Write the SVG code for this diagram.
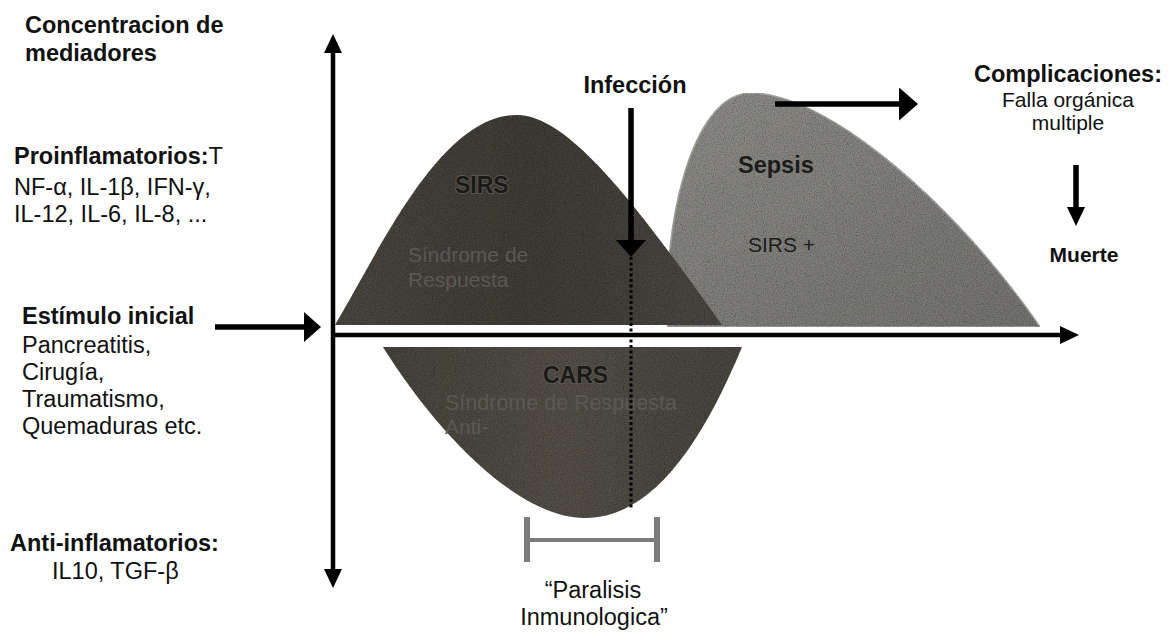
<svg xmlns="http://www.w3.org/2000/svg" width="1171" height="634" viewBox="0 0 1171 634">
<style>
text{font-family:"Liberation Sans",Arial,Helvetica,sans-serif;fill:#111;}
.b{font-weight:bold;}
.l{font-size:23.5px;}
.r{font-size:21px;}
.c{text-anchor:middle;}
.in{font-weight:bold;font-size:23px;fill:#1a1917;stroke:#5a5751;stroke-width:2;paint-order:stroke;}
.sub{font-size:21px;fill:#5b5852;}
.ax{stroke:#000;stroke-width:4.5;fill:none;}
.ar{stroke:#000;stroke-width:5.5;fill:none;}
</style>
<defs>
<marker id="hA" markerUnits="userSpaceOnUse" markerWidth="19" markerHeight="18" refX="0" refY="9" orient="auto-start-reverse" viewBox="0 0 19 18"><path d="M0,0 L19,9 L0,18 Z" fill="#000"/></marker>
<marker id="hB" markerUnits="userSpaceOnUse" markerWidth="17" markerHeight="30" refX="0" refY="15" orient="auto" viewBox="0 0 17 30"><path d="M0,0 L17,15 L0,30 Z" fill="#000"/></marker>
<marker id="hC" markerUnits="userSpaceOnUse" markerWidth="19" markerHeight="33" refX="0" refY="16.5" orient="auto" viewBox="0 0 19 33"><path d="M0,0 L19,16.5 L0,33 Z" fill="#000"/></marker>
<linearGradient id="gSep" x1="0" y1="0" x2="1" y2="1"><stop offset="0" stop-color="#8f8e89"/><stop offset="1" stop-color="#74736f"/></linearGradient>
<linearGradient id="gSirs" x1="0" y1="0" x2="1" y2="0"><stop offset="0" stop-color="#4a4741"/><stop offset="0.5" stop-color="#403d37"/><stop offset="1" stop-color="#4a4843"/></linearGradient>
<linearGradient id="gCars" x1="0" y1="0" x2="1" y2="0"><stop offset="0" stop-color="#47443d"/><stop offset="0.5" stop-color="#545048"/><stop offset="1" stop-color="#48453f"/></linearGradient>
<filter id="grain" x="0" y="0" width="100%" height="100%">
<feTurbulence type="fractalNoise" baseFrequency="0.9" numOctaves="2" seed="4" result="n"/>
<feColorMatrix in="n" type="matrix" values="0 0 0 0 0 0 0 0 0 0 0 0 0 0 0 0 0 0 -1.1 0.68" result="a"/>
<feComposite in="a" in2="SourceGraphic" operator="in" result="s"/>
<feMerge><feMergeNode in="SourceGraphic"/><feMergeNode in="s"/></feMerge>
</filter>
</defs>
<rect width="1171" height="634" fill="#fff"/>

<g id="sepsis">
<path d="M668,327 C662,230 690,95 750,93 C830,93 960,210 1040,327 Z" fill="url(#gSep)" stroke="#a9a8a4" stroke-width="1.5" filter="url(#grain)"/>
<text x="738" y="173" class="b" style="font-size:23.5px;fill:#1c1c1b">Sepsis</text>
<text x="748" y="252" style="font-size:21px;fill:#1c1c1b">SIRS +</text>
</g>

<g id="sirs">
<path d="M335,325 C380,250 440,115 517,115 C570,115 640,210 722,325 Z" fill="url(#gSirs)" filter="url(#grain)"/>
<text x="455" y="193" class="in">SIRS</text>
<text x="408" y="262" class="sub">Síndrome de</text>
<text x="408" y="287" class="sub">Respuesta</text>
</g>

<g id="cars">
<path d="M383,347 L742,347 C700,448 650,518 585,518 C520,518 440,438 383,347 Z" fill="url(#gCars)" filter="url(#grain)"/>
<text x="543" y="383" class="in">CARS</text>
<text x="445" y="410" class="sub" style="font-size:21.5px">Síndrome de Respuesta</text>
<text x="445" y="434" class="sub">Anti-</text>
</g>

<g id="paralisis">
<g stroke="#7b7b7b" fill="none">
<line x1="527" y1="517" x2="527" y2="562" stroke-width="6"/>
<line x1="657" y1="517" x2="657" y2="562" stroke-width="6"/>
<line x1="527" y1="540" x2="657" y2="540" stroke-width="4"/>
</g>
<text x="593" y="598" class="l c">“Paralisis</text>
<text x="594" y="625" class="l c">Inmunologica”</text>
</g>

<g id="mediadores">
<text x="25" y="33" class="b l">Concentracion de</text>
<text x="25" y="61" class="b l">mediadores</text>
</g>

<g id="proinflamatorios">
<text x="14" y="164" class="l"><tspan class="b">Proinflamatorios:</tspan>T</text>
<text x="14" y="195" class="l">NF-α, IL-1β, IFN-γ,</text>
<text x="14" y="222" class="l">IL-12, IL-6, IL-8, ...</text>
</g>

<g id="estimulo">
<text x="22" y="324" class="b l">Estímulo inicial</text>
<text x="22" y="353" class="l">Pancreatitis,</text>
<text x="22" y="380" class="l">Cirugía,</text>
<text x="22" y="407" class="l">Traumatismo,</text>
<text x="22" y="434" class="l">Quemaduras etc.</text>
</g>

<g id="antiinflamatorios">
<text x="10" y="551" class="b l">Anti-inflamatorios:</text>
<text x="52" y="579" class="l">IL10, TGF-β</text>
</g>

<g id="infeccion">
<text x="635" y="93" class="b l c">Infección</text>
</g>

<g id="complicaciones">
<text x="1068" y="82" class="b l c">Complicaciones:</text>
<text x="1068" y="107" class="r c">Falla orgánica</text>
<text x="1068" y="130" class="r c">multiple</text>
</g>

<g id="muerte">
<text x="1084" y="262" class="b r c">Muerte</text>
</g>

<g id="connectors">
<line x1="333" y1="53" x2="333" y2="569" class="ax" marker-start="url(#hA)" marker-end="url(#hA)"/>
<line x1="331" y1="335" x2="1060" y2="335" class="ax" marker-end="url(#hA)"/>
<line x1="215" y1="327" x2="304" y2="327" class="ar" marker-end="url(#hB)"/>
<line x1="631" y1="108" x2="631" y2="240" class="ar" marker-end="url(#hB)"/>
<line x1="631" y1="257" x2="631" y2="509" stroke="#000" stroke-width="3" stroke-dasharray="3 2.5"/>
<line x1="775" y1="104" x2="899" y2="104" class="ar" stroke-width="6" marker-end="url(#hC)"/>
<line x1="1076" y1="165" x2="1076" y2="207" class="ar" marker-end="url(#hA)"/>
</g>
</svg>
